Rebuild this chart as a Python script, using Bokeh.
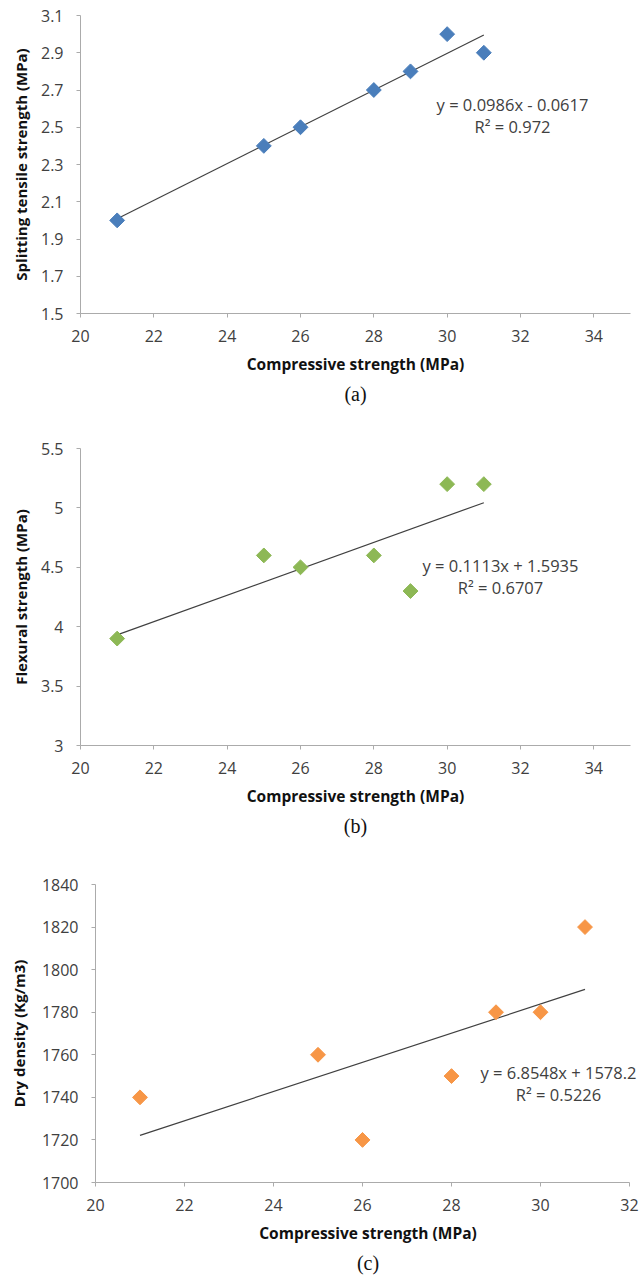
import numpy as np
from bokeh.plotting import figure
from bokeh.models import Title, Label, FixedTicker
from bokeh.embed import file_html
from bokeh.resources import INLINE

# ---- data ----
comp_strength = [21, 25, 26, 28, 29, 30, 31]
split_tensile = [2.0, 2.4, 2.5, 2.7, 2.8, 3.0, 2.9]
flexural = [3.9, 4.6, 4.5, 4.6, 4.3, 5.2, 5.2]
dry_density = [1740, 1760, 1720, 1750, 1780, 1780, 1820]

fit_a = (0.0986, -0.0617)
fit_b = (0.1113, 1.5935)
fit_c = (6.8548, 1578.2)
eq_a = ["y = 0.0986x - 0.0617", "R² = 0.972"]
eq_b = ["y = 0.1113x + 1.5935", "R² = 0.6707"]
eq_c = ["y = 6.8548x + 1578.2", "R² = 0.5226"]

xticks_ab = [20, 22, 24, 26, 28, 30, 32, 34]
xticks_c = [20, 22, 24, 26, 28, 30, 32]
yticks_a = [1.5, 1.7, 1.9, 2.1, 2.3, 2.5, 2.7, 2.9, 3.1]
yticks_b = [3, 3.5, 4, 4.5, 5, 5.5]
yticks_c = [1700, 1720, 1740, 1760, 1780, 1800, 1820, 1840]

FONT = "Open Sans"
AXIS_COL = "#ABABAB"
TICK_TXT = "#404040"


def make_chart(ys, fit, eq, color, ylabel, caption, xr, yr, xticks, yticks,
               height, left, top, bottom, right, eq_pos, ylab_standoff,
               xbounds):
    p = figure(width=640, height=height, x_range=xr, y_range=yr,
               output_backend="svg", toolbar_location=None,
               min_border_left=left, min_border_right=right,
               min_border_top=top, min_border_bottom=bottom)
    p.outline_line_color = None
    p.grid.visible = False
    p.background_fill_color = "white"
    for ax in (p.xaxis[0], p.yaxis[0]):
        ax.axis_line_color = AXIS_COL
        ax.major_tick_line_color = AXIS_COL
        ax.major_tick_out = 4
        ax.major_tick_in = 0
        ax.minor_tick_line_color = None
        ax.major_label_text_font = FONT
        ax.major_label_text_font_size = "16px"
        ax.major_label_text_color = TICK_TXT
        ax.axis_label_text_font = FONT
        ax.axis_label_text_font_style = "bold"
        ax.axis_label_text_color = "#111111"
    p.xaxis.bounds = xbounds
    p.xaxis.axis_label_text_font_size = "15.5px"
    p.yaxis.axis_label_text_font_size = "15px"
    p.xaxis.ticker = FixedTicker(ticks=xticks)
    p.yaxis.ticker = FixedTicker(ticks=yticks)
    p.xaxis.axis_label = "Compressive strength (MPa)"
    p.yaxis.axis_label = ylabel
    p.xaxis.major_label_standoff = 12
    p.xaxis.axis_label_standoff = 8
    p.yaxis.major_label_standoff = 13
    p.yaxis.axis_label_standoff = ylab_standoff

    xs_fit = [min(comp_strength), max(comp_strength)]
    ys_fit = [fit[0] * x + fit[1] for x in xs_fit]
    p.line(xs_fit, ys_fit, line_color="#404040", line_width=1.2)
    p.scatter(comp_strength, ys, marker="square", size=10.5, angle=np.pi / 4,
              fill_color=color, line_color=color)

    ex, ey = eq_pos
    p.add_layout(Label(x=ex, y=ey, x_units="screen", y_units="screen",
                       text=eq[0], text_font=FONT, text_font_size="16.5px",
                       text_color="#404040", text_align="center",
                       text_baseline="middle"))
    p.add_layout(Label(x=ex, y=ey - 22, x_units="screen", y_units="screen",
                       text=eq[1], text_font=FONT, text_font_size="16.5px",
                       text_color="#404040", text_align="center",
                       text_baseline="middle"))

    cap = Title(text=caption, align="center", text_font="Liberation Serif",
                text_font_size="20px", text_font_style="normal",
                text_color="#111111", standoff=6)
    p.add_layout(cap, "below")
    return p


# chart a: frame x 80..630, y 15..313
pa = make_chart(split_tensile, fit_a, eq_a, "#4A7EBB",
                "Splitting tensile strength (MPa)", "(a)",
                (20, 35), (1.5, 3.1), xticks_ab, yticks_a,
                height=420, left=80, top=15, bottom=107, right=10,
                eq_pos=(432, 209), ylab_standoff=7, xbounds=(20, 35))
# chart b: frame x 80..630, y 448..745
pb = make_chart(flexural, fit_b, eq_b, "#8DB855",
                "Flexural strength (MPa)", "(b)",
                (20, 35), (3, 5.5), xticks_ab, yticks_b,
                height=440, left=80, top=28, bottom=115, right=10,
                eq_pos=(420, 180), ylab_standoff=7, xbounds=(20, 35))
# chart c: axis x 95..629 (frame runs on to 640 so the equation is not clipped)
pc = make_chart(dry_density, fit_c, eq_c, "#F79646",
                "Dry density (Kg/m3)", "(c)",
                (20, 32.247), (1700, 1840), xticks_c, yticks_c,
                height=420, left=95, top=24, bottom=98, right=0,
                eq_pos=(463, 110), ylab_standoff=10, xbounds=(20, 32))

open("out.html", "w").write(file_html([pa, pb, pc], INLINE))
